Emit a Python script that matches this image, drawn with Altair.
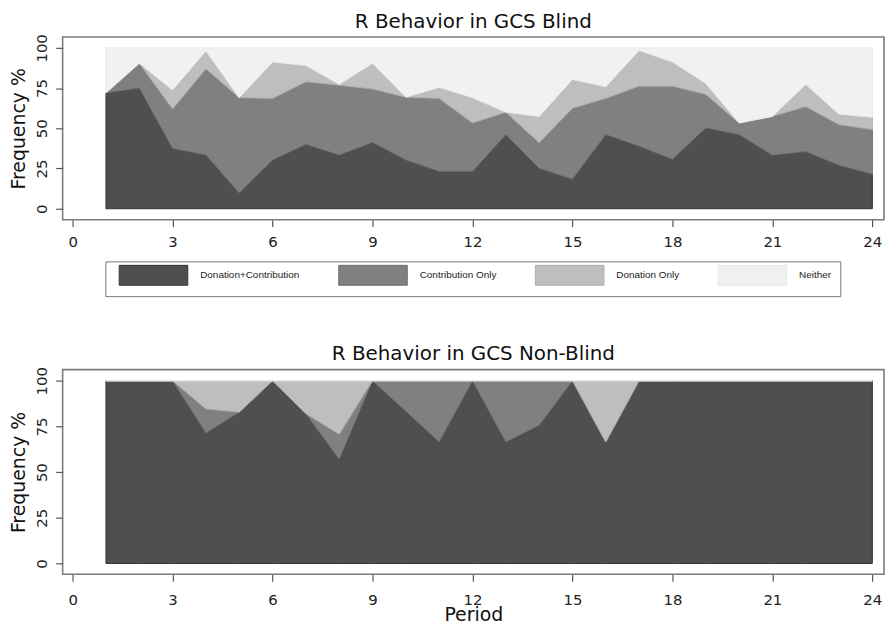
import altair as alt
import pandas as pd

periods = list(range(1, 25))
categories = ["Donation+Contribution", "Contribution Only", "Donation Only", "Neither"]

# GCS Blind (percent of subjects per period)
blind_both = [72, 75, 37.5, 33.4, 9.8, 30.3, 40, 33.4, 41.2, 30.3, 23.2, 23.2,
              46.1, 25.2, 18.4, 46.1, 38.9, 30.7, 50.2, 46.1, 33.2, 35.5, 27, 21.5]
blind_contrib = [0, 15.4, 24.5, 53.6, 59.2, 38.3, 38.9, 43.4, 33.2, 39.0, 45.4, 30.1,
                 13.9, 15.8, 44.1, 22.5, 37.3, 45.5, 20.9, 7.2, 24.2, 28.0, 25.3, 27.7]
blind_donation = [0, 0, 11.8, 11.0, 0, 22.6, 10.1, 0.5, 16.0, 0, 6.8, 15.7,
                  0, 16.4, 17.8, 7.2, 22.2, 15.0, 6.8, 0, 0, 13.8, 6.5, 7.6]
blind_neither = [28, 9.6, 26.2, 2.0, 31.0, 8.8, 11.0, 22.7, 9.6, 30.7, 24.6, 31.0,
                 40.0, 42.6, 19.7, 24.2, 1.6, 8.8, 22.1, 46.7, 42.6, 22.7, 41.2, 43.2]

# GCS Non-Blind
nonblind_both = [100, 100, 100, 71.4, 82.8, 100, 82, 57, 100, 83.3, 66.5, 100,
                 66.5, 75.6, 100, 66.5, 100, 100, 100, 100, 100, 100, 100, 100]
nonblind_contrib = [0, 0, 0, 13.2, 0, 0, 0, 13.7, 0, 16.7, 33.5, 0,
                    33.5, 24.4, 0, 0, 0, 0, 0, 0, 0, 0, 0, 0]
nonblind_donation = [0, 0, 0, 15.4, 17.2, 0, 18, 29.3, 0, 0, 0, 0,
                     0, 0, 0, 33.5, 0, 0, 0, 0, 0, 0, 0, 0]
nonblind_neither = [0] * 24

x_ticks = [0, 3, 6, 9, 12, 15, 18, 21, 24]
y_ticks = [0, 25, 50, 75, 100]

fill_colors = ["#4f4f4f", "#808080", "#bebebe", "#f1f1f1"]
stroke_colors = ["#333333", "#6c6c6c", "#ababab", "#e9e9e9"]


def long_frame(series):
    rows = []
    for k, (cat, vals) in enumerate(zip(categories, series)):
        for p, v in zip(periods, vals):
            rows.append({"period": p, "value": v, "category": cat, "ord": k})
    return pd.DataFrame(rows)


df_blind = long_frame([blind_both, blind_contrib, blind_donation, blind_neither])
df_nonblind = long_frame([nonblind_both, nonblind_contrib, nonblind_donation, nonblind_neither])

FONT = "DejaVu Sans"

legend = alt.Legend(
    title=None, orient="none", legendX=43, legendY=226,
    direction="horizontal", columns=4,
    symbolType="M-69,-20H69V20H-69Z", symbolSize=1, symbolOffset=34.5,
    labelOffset=42, columnPadding=34, padding=9,
    strokeColor="#777777", fillColor="white",
    labelFont="Liberation Sans", labelFontSize=10, labelColor="#222222",
    symbolStrokeColor="#3a3a3a", symbolStrokeWidth=1, symbolOpacity=1,
)


def panel(df, title, height, ydomain, title_offset, xlabel_pad, xtitle, show_legend):
    x_axis = alt.Axis(values=x_ticks, title=xtitle, grid=False, domain=False,
                      tickSize=7, tickColor="#555555", tickWidth=1.2,
                      labelFont=FONT, labelFontSize=15, labelColor="#222222",
                      labelBaseline="alphabetic", labelPadding=xlabel_pad,
                      titleFont=FONT, titleFontSize=19, titleFontWeight="normal",
                      titleColor="#111111", titleBaseline="alphabetic", titlePadding=14)
    y_axis = alt.Axis(values=y_ticks, title="Frequency %", grid=False, domain=False,
                      tickSize=7, tickColor="#555555", tickWidth=1.2,
                      labelFont=FONT, labelFontSize=15, labelColor="#222222",
                      labelAngle=270, labelAlign="center", labelBaseline="alphabetic",
                      labelPadding=9,
                      titleFont=FONT, titleFontSize=19, titleFontWeight="normal",
                      titleColor="#111111", titlePadding=6)
    return alt.Chart(df).mark_area(strokeWidth=1, opacity=1).encode(
        x=alt.X("period:Q", scale=alt.Scale(domain=[-0.3, 24.35], nice=False, zero=False),
                axis=x_axis),
        y=alt.Y("value:Q", stack="zero",
                scale=alt.Scale(domain=ydomain, nice=False), axis=y_axis),
        fill=alt.Fill("category:N", scale=alt.Scale(domain=categories, range=fill_colors),
                      legend=legend if show_legend else None),
        stroke=alt.Stroke("category:N", scale=alt.Scale(domain=categories, range=stroke_colors),
                          legend=None),
        order=alt.Order("ord:Q"),
    ).properties(
        width=827, height=height,
        title=alt.TitleParams(title, font=FONT, fontSize=20, fontWeight="normal",
                              color="#111111", anchor="middle", baseline="alphabetic",
                              offset=title_offset),
    )


top = panel(df_blind, "R Behavior in GCS Blind", 184, [-6.8, 106.8], -14.7, 20, None, True)
bottom = panel(df_nonblind, "R Behavior in GCS Non-Blind", 206, [-5.9, 106.1], -13.3, 23,
               "Period", False)

chart = alt.vconcat(top, bottom, spacing=93).configure(
    padding={"left": 1, "top": 1, "right": 0, "bottom": 0},
    background="white",
).configure_view(
    stroke="#7b7b7b", strokeWidth=1.6, fill="white",
)

chart.save("out.html", embed_options={"renderer": "svg", "actions": False})
